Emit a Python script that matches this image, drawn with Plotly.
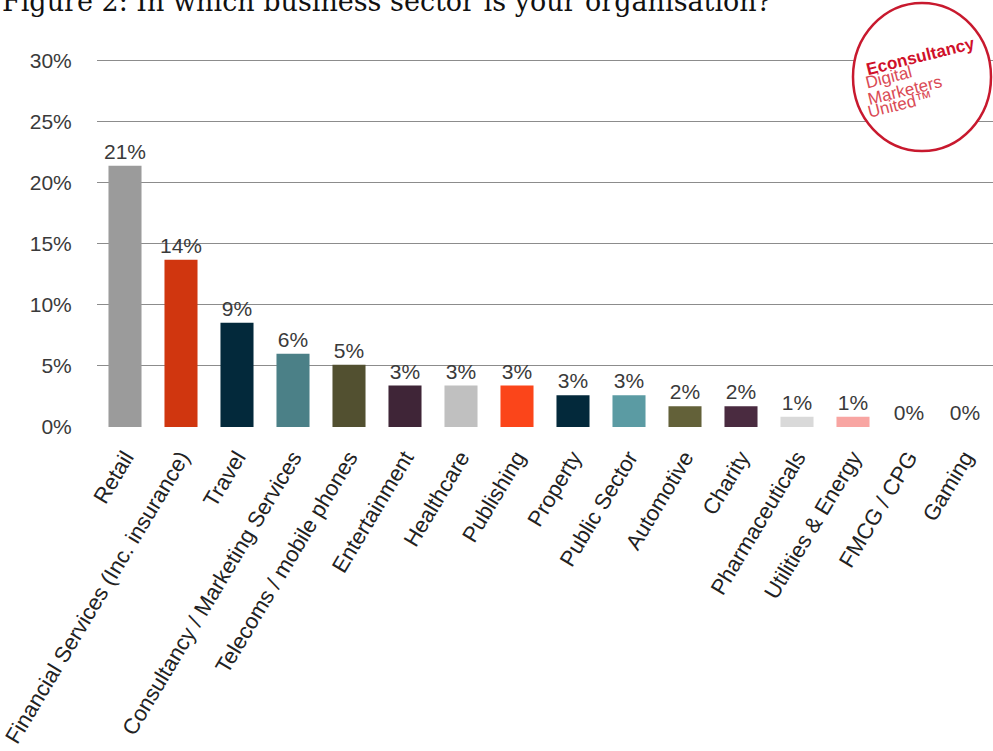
import plotly.graph_objects as go

# Survey: business sector of respondents' organisations (% of respondents)
sectors = [
    "Retail",
    "Financial Services (Inc. insurance)",
    "Travel",
    "Consultancy / Marketing Services",
    "Telecoms / mobile phones",
    "Entertainment",
    "Healthcare",
    "Publishing",
    "Property",
    "Public Sector",
    "Automotive",
    "Charity",
    "Pharmaceuticals",
    "Utilities & Energy",
    "FMCG / CPG",
    "Gaming",
]
share_pct = [21.4, 13.7, 8.55, 6.0, 5.1, 3.4, 3.4, 3.4, 2.6, 2.6, 1.7, 1.7, 0.85, 0.85, 0.0, 0.0]
bar_colors = [
    "#9b9b9b", "#d0360f", "#03293b", "#4b8087", "#525030", "#3f2537",
    "#c0c0c0", "#fb451a", "#03293b", "#5b9ba3", "#636139", "#4a2b40",
    "#d9d9d9", "#f8a5a2", "#b0b0b0", "#b0b0b0",
]
y_ticks = [0, 5, 10, 15, 20, 25, 30]

W, H = 993, 751
M_L, M_R, M_T, M_B = 97, 0, 59, 324
PLOT_W = W - M_L - M_R
PLOT_H = H - M_T - M_B
Y_TOP = 30.15  # a little headroom so the 30% gridline is kept

SANS = "Liberation Sans, Arial, sans-serif"


def px_x(px):
    return (px - M_L) / PLOT_W


def px_y(py):
    return (H - M_B - py) / PLOT_H


fig = go.Figure(
    go.Bar(
        x=sectors,
        y=share_pct,
        marker=dict(color=bar_colors, line=dict(width=0)),
        texttemplate="%{y:.0f}%",
        textposition="outside",
        constraintext="none",
        textfont=dict(family=SANS, size=21, color="#3a3a3a"),
        cliponaxis=False,
        hoverinfo="skip",
    )
)

fig.update_layout(
    width=W,
    height=H,
    margin=dict(l=M_L, r=M_R, t=M_T, b=M_B, autoexpand=False),
    paper_bgcolor="white",
    plot_bgcolor="white",
    bargap=0.41,
    showlegend=False,
    font=dict(family=SANS, size=21, color="#333333"),
)

fig.update_yaxes(
    range=[0, Y_TOP],
    tickvals=y_ticks,
    ticktext=[f"{v}%" for v in y_ticks],
    showgrid=True,
    gridcolor="#8c8c8c",
    gridwidth=1,
    zeroline=False,
    showline=False,
    ticks="outside",
    ticklen=20,
    tickcolor="rgba(0,0,0,0)",
    tickfont=dict(size=21, color="#3a3a3a"),
    automargin=False,
)

fig.update_xaxes(
    tickangle=-59,
    showgrid=False,
    showline=False,
    zeroline=False,
    ticks="outside",
    ticklen=8,
    tickcolor="rgba(0,0,0,0)",
    tickfont=dict(size=22, color="#222222"),
    automargin=False,
)

# Chart heading (partly above the page edge)
fig.add_annotation(
    text="Figure 2: In which business sector is your organisation?",
    xref="paper", yref="paper",
    x=px_x(0), y=px_y(19),
    xanchor="left", yanchor="bottom",
    showarrow=False,
    font=dict(family="DejaVu Serif, Georgia, serif", size=27, color="#111111"),
)

# Brand roundel
fig.add_shape(
    type="circle",
    xref="paper", yref="paper",
    x0=px_x(853), x1=px_x(991),
    y0=px_y(151), y1=px_y(3),
    line=dict(color="#c8192e", width=2.5),
    fillcolor="white",
    layer="above",
)
fig.add_annotation(
    text="<b>Econsultancy</b>",
    xref="paper", yref="paper",
    x=px_x(920), y=px_y(56),
    xanchor="center", yanchor="middle",
    showarrow=False, textangle=-14,
    font=dict(family=SANS, size=17, color="#d0102a"),
)
for line_text, (lx, ly) in zip(["Digital", "Marketers", "United™"],
                               [(888, 77), (905, 90), (900, 104)]):
    fig.add_annotation(
        text=line_text,
        xref="paper", yref="paper",
        x=px_x(lx), y=px_y(ly),
        xanchor="center", yanchor="middle",
        showarrow=False, textangle=-14,
        font=dict(family=SANS, size=17, color="#da4a55"),
    )

fig.write_html("out.html")
